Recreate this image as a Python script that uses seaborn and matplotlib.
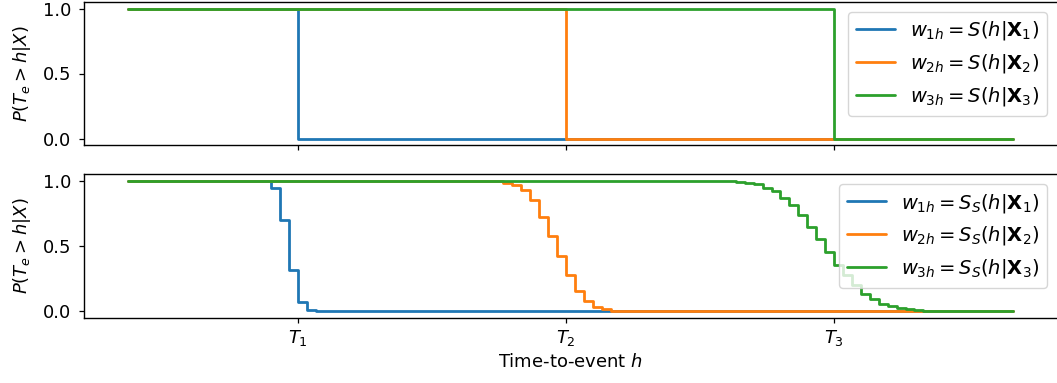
import numpy as np
import pandas as pd
import matplotlib
matplotlib.use('Agg')
import matplotlib.pyplot as plt
import seaborn as sns

# ---- data ----
tick_pos = [20, 50, 80]
tick_labels = [r'$T_1$', r'$T_2$', r'$T_3$']

# top panel: hard step survival functions (change points, steps-post)
top_h1 = [1, 20, 100]
top_v1 = [1.0, 0.0, 0.0]
top_h2 = [1, 50, 100]
top_v2 = [1.0, 0.0, 0.0]
top_h3 = [1, 80, 100]
top_v3 = [1.0, 0.0, 0.0]

# bottom panel: smoothed survival functions (change points, steps-post)
bot_h1 = [1, 16, 17, 18, 19, 20, 21, 22, 100]
bot_v1 = [1.0, 0.995, 0.94, 0.695, 0.32, 0.07, 0.008, 0.0, 0.0]
bot_h2 = [1, 42, 43, 44, 45, 46, 47, 48, 49, 50, 51, 52, 53, 54, 55, 56, 100]
bot_v2 = [1.0, 0.997, 0.985, 0.964, 0.924, 0.852, 0.725, 0.58, 0.427, 0.277,
          0.16, 0.079, 0.036, 0.015, 0.005, 0.0, 0.0]
bot_h3 = [1, 68, 69, 70, 71, 72, 73, 74, 75, 76, 77, 78, 79, 80, 81, 82, 83,
          84, 85, 86, 87, 88, 89, 90, 91, 100]
bot_v3 = [1.0, 0.996, 0.99, 0.98, 0.97, 0.944, 0.92, 0.868, 0.81, 0.735, 0.646,
          0.556, 0.455, 0.354, 0.277, 0.20, 0.13, 0.092, 0.059, 0.041, 0.028,
          0.015, 0.008, 0.003, 0.0, 0.0]

top_labels = [r'$w_{1h} = S(h|\mathbf{X}_1)$', r'$w_{2h} = S(h|\mathbf{X}_2)$',
              r'$w_{3h} = S(h|\mathbf{X}_3)$']
bot_labels = [r'$w_{1h} = S_S(h|\mathbf{X}_1)$', r'$w_{2h} = S_S(h|\mathbf{X}_2)$',
              r'$w_{3h} = S_S(h|\mathbf{X}_3)$']

ylabel = r'$P(T_e > h|X)$'
xlabel = r'Time-to-event $h$'

# ---- plotting ----
sns.set_style('ticks')
plt.rcParams['font.family'] = ['DejaVu Sans']
plt.rcParams['mathtext.fontset'] = 'dejavusans'
plt.rcParams.update({
    'text.color': 'black', 'axes.labelcolor': 'black',
    'xtick.color': 'black', 'ytick.color': 'black',
    'xtick.major.size': 3.5, 'ytick.major.size': 3.5,
    'xtick.major.width': 0.9, 'ytick.major.width': 0.9,
    'axes.edgecolor': 'black',
})

colors = sns.color_palette('tab10', 3)
W, H = 1057, 383
fig = plt.figure(figsize=(W / 100, H / 100), dpi=100)
ax1 = fig.add_axes([84 / W, 1 - 145 / H, 1 - 84 / W, (145 - 2) / H])
ax2 = fig.add_axes([84 / W, 1 - 318 / H, 1 - 84 / W, (318 - 174) / H], sharex=ax1)

fs = 13
for ax, series, labels in [
    (ax1, [(top_h1, top_v1), (top_h2, top_v2), (top_h3, top_v3)], top_labels),
    (ax2, [(bot_h1, bot_v1), (bot_h2, bot_v2), (bot_h3, bot_v3)], bot_labels),
]:
    for (hh, vv), c, lab in zip(series, colors, labels):
        sns.lineplot(x=hh, y=vv, ax=ax, color=c, label=lab,
                     drawstyle='steps-post', linewidth=2.0, sort=False)
    ax.legend(loc='upper right', fontsize=14)
    ax.set_ylabel(ylabel, fontsize=fs, labelpad=7)
    ax.set_yticks([0.0, 0.5, 1.0])
    ax.set_ylim(-0.05, 1.05)
    ax.tick_params(labelsize=fs)
    ax.tick_params(axis='y', pad=5.5)
    ax.spines['right'].set_visible(False)
    for s in ['left', 'bottom', 'top']:
        ax.spines[s].set_color('black')
        ax.spines[s].set_linewidth(1.0)

ax2.set_xticks(tick_pos)
ax2.set_xticklabels(tick_labels)
ax1.tick_params(labelbottom=False)
ax2.set_xlabel(xlabel, fontsize=fs)

fig.savefig('out.png', dpi=100)
